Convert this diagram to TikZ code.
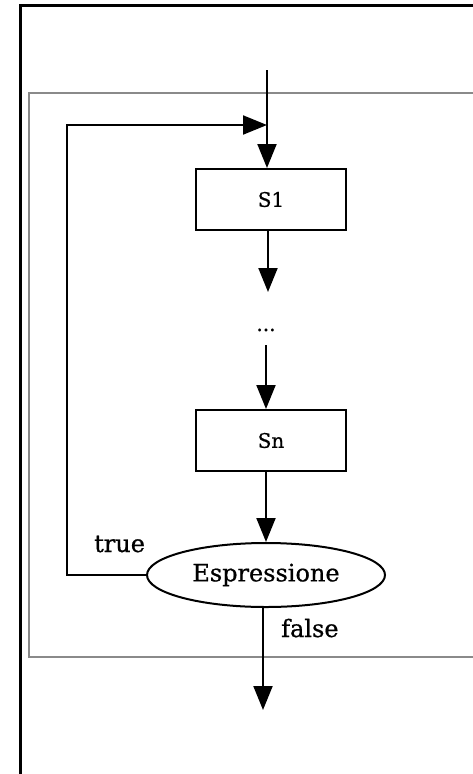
\documentclass[tikz,border=0pt]{standalone}
\usepackage{fontspec}
\setmainfont[FakeBold=0.7]{DejaVu Serif}
\usetikzlibrary{arrows.meta,shapes.geometric}
\definecolor{framegray}{RGB}{138,138,138}
\begin{document}
\begin{tikzpicture}[x=1pt,y=-1pt,
  flow/.style={line width=2pt, draw=black},
  arr/.style={flow, -{Triangle[length=24pt,width=19pt]}},
  stmt/.style={draw, line width=2pt, minimum width=150pt, minimum height=61pt,
    inner sep=0pt, font=\fontsize{20}{24}\selectfont},
  cond/.style={draw, ellipse, line width=2pt, minimum width=238pt,
    minimum height=64pt, inner sep=0pt, font=\fontsize{24}{28}\selectfont},
  lbl/.style={inner sep=0pt, font=\fontsize{24}{28}\selectfont}]
  \useasboundingbox (0,0) rectangle (473,774);
  \clip (0,0) rectangle (473,774);

  % page frame and loop block
  \draw[line width=3pt] (20.5,5.5) rectangle (495,800);
  \draw[framegray, line width=2pt] (28.5,92.5) rectangle (495,657);

  % statements and condition
  \node[stmt] (s1) at (271,199.5) {S1};
  \node[lbl, font=\fontsize{20}{24}\selectfont, anchor=base] (dots) at (266,331) {...};
  \node[stmt] (sn) at (271,440.5) {Sn};
  \node[cond] (expr) at (266,575) {Espressione};
  \node[lbl, anchor=base west] (true) at (94,552) {true};
  \node[lbl, anchor=base west] (false) at (281,637) {false};

  % free ends and bends
  \coordinate (in) at (267,70);
  \coordinate (join) at (267,125);
  \coordinate (back) at (67,125);
  \coordinate (d1) at (268,292);
  \coordinate (d2) at (266,345);
  \coordinate (out) at (263,710);

  % connectors
  \draw[flow] (in) -- (join);
  \draw[arr] (join) -- (join |- s1.north);
  \draw[arr] (s1.south -| d1) -- (d1);
  \draw[arr] (d2) -- (d2 |- sn.north);
  \draw[arr] (sn.south -| expr) -- (expr.north);
  \draw[arr] (expr.west) -| (back) -- (join);
  \draw[arr] (expr.south -| out) -- (out);
\end{tikzpicture}
\end{document}
